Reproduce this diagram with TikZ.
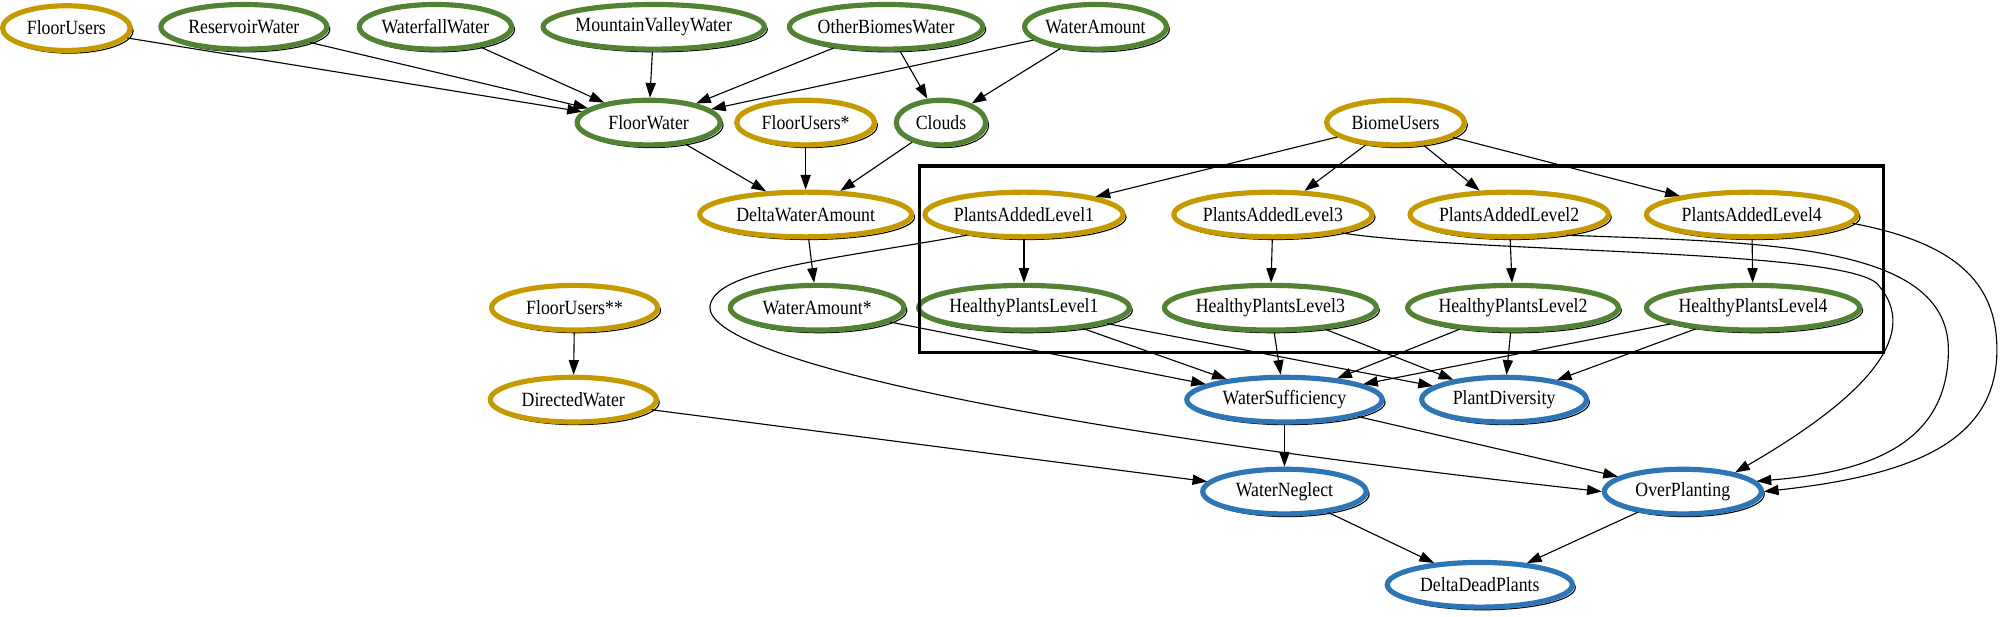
\documentclass[tikz,border=0pt]{standalone}
\usepackage{fontspec}
\setmainfont{Liberation Serif}[FakeStretch=0.88]
\usetikzlibrary{arrows.meta,shapes.geometric}
\definecolor{cO}{HTML}{C49A00}
\definecolor{cG}{HTML}{548235}
\definecolor{cB}{HTML}{2E75B6}
\tikzset{
  var/.style={ellipse,line width=2.3pt,fill=white,inner sep=0pt,minimum height=0.7cm,
              font=\fontsize{9}{11}\selectfont,
              preaction={draw=black,line width=0.5pt,transform canvas={shift={(1.3pt,-1.2pt)}}}},
  actnode/.style={var,draw=cO},
  statenode/.style={var,draw=cG},
  outnode/.style={var,draw=cB},
  link/.style={-{Triangle[length=2.3mm,width=1.6mm]},black,line width=0.5pt},
  clusterbox/.style={draw=black,line width=1.4pt},
}
\begin{document}
\begin{tikzpicture}[x=0.02cm,y=-0.02cm]
  \useasboundingbox (0,0) rectangle (1568,483);
  % sources
  \node[actnode,minimum width=2.0cm]   (fu)  at (52,22)  {FloorUsers};
  \node[statenode,minimum width=2.6cm] (rw)  at (191,21) {ReservoirWater};
  \node[statenode,minimum width=2.26cm] (wfw) at (341,21) {WaterfallWater};
  \node[statenode,minimum width=3.1cm] (mvw) at (512,21) {MountainValleyWater};
  \node[statenode,minimum width=2.7cm] (obw) at (694,21) {OtherBiomesWater};
  \node[statenode,minimum width=2.2cm] (wa)  at (858,21) {WaterAmount};
  % water flow
  \node[statenode,minimum width=2.24cm] (fw) at (508,96) {FloorWater};
  \node[actnode,minimum width=2.16cm]  (fus) at (631,96) {FloorUsers*};
  \node[statenode,minimum width=1.4cm] (cl)  at (737,96) {Clouds};
  \node[actnode,minimum width=2.16cm]  (bu)  at (1093,96) {BiomeUsers};
  \node[actnode,minimum width=3.32cm]  (dwa) at (631,168) {DeltaWaterAmount};
  \node[actnode,minimum width=2.6cm]   (fuss) at (450,241) {FloorUsers**};
  \node[statenode,minimum width=2.72cm] (was) at (640,241) {WaterAmount*};
  \node[actnode,minimum width=2.6cm]   (dw)  at (449,313) {DirectedWater};
  % plant levels
  \node[actnode,minimum width=2.9cm]   (pa1) at (802,168)  {PlantsAddedLevel1};
  \node[actnode,minimum width=3.0cm]   (pa3) at (997,168)  {PlantsAddedLevel3};
  \node[actnode,minimum width=3.04cm]  (pa2) at (1182,168) {PlantsAddedLevel2};
  \node[actnode,minimum width=3.3cm]   (pa4) at (1372,168) {PlantsAddedLevel4};
  \node[statenode,minimum width=3.22cm] (hp1) at (802,241)  {HealthyPlantsLevel1};
  \node[statenode,minimum width=3.32cm] (hp3) at (995,241)  {HealthyPlantsLevel3};
  \node[statenode,minimum width=3.3cm]  (hp2) at (1185,241) {HealthyPlantsLevel2};
  \node[statenode,minimum width=3.34cm] (hp4) at (1373,241) {HealthyPlantsLevel4};
  \draw[clusterbox] (720,130) rectangle (1475,276);
  % outcomes
  \node[outnode,minimum width=3.06cm] (ws)  at (1006,313) {WaterSufficiency};
  \node[outnode,minimum width=2.58cm] (pd)  at (1178,313) {PlantDiversity};
  \node[outnode,minimum width=2.56cm] (wn)  at (1006,385) {WaterNeglect};
  \node[outnode,minimum width=2.46cm] (op)  at (1318,385) {OverPlanting};
  \node[outnode,minimum width=2.9cm]  (ddp) at (1159,458) {DeltaDeadPlants};

  \foreach \s in {fu,rw,wfw,mvw,obw,wa} \draw[link] (\s) -- (fw);
  \draw[link] (obw) -- (cl);
  \draw[link] (wa) -- (cl);
  \foreach \s in {fw,fus,cl} \draw[link] (\s) -- (dwa);
  \draw[link] (dwa) -- (was);
  \draw[link] (fuss) -- (dw);
  \draw[link] (dw) -- (wn);
  \draw[link] (was) -- (ws);
  \foreach \i in {1,...,4}{
    \draw[link] (bu) -- (pa\i);
    \draw[link] (pa\i) -- (hp\i);
    \draw[link] (hp\i) -- (ws);
    \draw[link] (hp\i) -- (pd);
  }
  \draw[link] (ws) -- (wn);
  \draw[link] (ws) -- (op);
  \draw[link] (wn) -- (ddp);
  \draw[link] (op) -- (ddp);
  % long bends into OverPlanting
  \draw[link] (pa1.200) .. controls (640,205) and (560,212) .. (556,240)
              .. controls (553,280) and (800,335) .. (op.west);
  \draw[link] (pa3.-15) .. controls (1150,198) and (1440,195) .. (1470,222)
              .. controls (1500,255) and (1480,300) .. (op.20);
  \draw[link] (pa2.-20) .. controls (1380,190) and (1526,190) .. (1526,274)
              .. controls (1526,350) and (1460,370) .. (op.8);
  \draw[link] (pa4.-5) .. controls (1530,190) and (1564,220) .. (1564,274)
              .. controls (1564,345) and (1500,372) .. (op.east);
\end{tikzpicture}
\end{document}
